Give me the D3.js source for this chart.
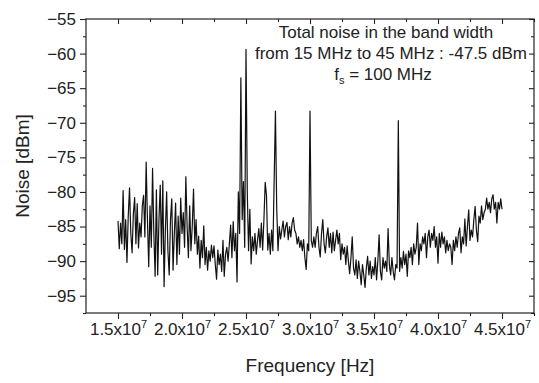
<!DOCTYPE html>
<html>
<head>
<meta charset="utf-8">
<script src="https://cdn.jsdelivr.net/npm/d3@7"></script>
<style>
body { margin: 0; background: #fff; }
text { font-family: "Liberation Sans", Arial, sans-serif; fill: #222; }
</style>
</head>
<body>
<svg id="chart" width="539" height="383"></svg>
<script>
// sampling grid of the spectrum (Hz)
var fStart = 1.5e7, fStep = 1e5;

// measured noise (dBm), one value per 0.1 MHz from 15 MHz to 45 MHz
var noise = [
  -84.2, -88.2, -84.5, -87.5, -79.8, -88.3, -84.0, -90.2, -83.5, -79.4,
  -86.0, -88.8, -83.2, -80.8, -87.5, -81.7, -88.1, -84.5, -86.5, -82.0,
  -80.5, -86.5, -75.7, -84.0, -90.8, -82.0, -88.0, -76.6, -86.0, -92.2,
  -79.7, -92.0, -84.0, -79.0, -89.0, -78.4, -93.7, -85.5, -80.0, -88.5,
  -92.0, -84.0, -81.0, -91.3, -86.0, -81.6, -90.5, -83.5, -89.0, -80.9,
  -86.0, -83.0, -88.0, -77.8, -85.0, -89.5, -82.0, -88.5, -85.0, -79.6,
  -87.5, -84.0, -89.0, -86.4, -91.0, -87.0, -89.5, -84.9, -90.5, -88.0,
  -91.3, -88.5, -90.0, -87.7, -89.5, -87.8, -90.5, -92.6, -88.4, -90.5,
  -89.0, -91.5, -87.0, -92.2, -89.0, -88.0, -90.0, -87.5, -84.8, -89.5,
  -84.3, -88.5, -86.0, -93.0, -80.0, -86.0, -63.5, -84.0, -78.5, -88.0,
  -59.4, -80.0, -88.5, -82.5, -90.4, -86.5, -88.5, -86.0, -89.0, -87.0,
  -85.3, -88.0, -84.5, -88.4, -84.0, -78.6, -80.5, -88.4, -86.0, -89.0,
  -85.5, -88.5, -78.3, -68.3, -82.3, -88.5, -85.0, -86.8, -85.5, -84.2,
  -86.5, -85.0, -84.4, -86.9, -85.0, -86.5, -84.5, -83.7, -85.5, -86.0,
  -87.5, -86.5, -88.0, -87.0, -88.5, -86.9, -89.5, -91.2, -87.5, -88.5,
  -68.3, -87.0, -88.0, -86.5, -88.0, -86.0, -85.0, -88.0, -89.4, -86.0,
  -84.0, -87.5, -88.8, -86.5, -85.2, -88.0, -86.0, -88.8, -85.8, -88.5,
  -87.0, -85.5, -87.5, -86.0, -89.8, -87.5, -89.0, -88.0, -90.5, -87.8,
  -90.0, -91.8, -89.5, -86.5, -91.0, -92.0, -89.8, -92.5, -90.0, -91.5,
  -93.4, -90.5, -92.0, -93.8, -91.0, -89.3, -92.0, -90.0, -92.5, -90.8,
  -92.0, -89.5, -92.7, -90.0, -86.2, -91.5, -92.7, -89.5, -91.0, -90.0,
  -91.5, -85.3, -90.5, -92.0, -89.5, -91.5, -92.7, -90.5, -91.0, -69.7,
  -91.5, -89.5, -91.0, -88.6, -90.5, -89.0, -92.2, -88.5, -89.5, -88.0,
  -90.5, -87.5, -89.0, -88.0, -84.5, -90.5, -87.5, -88.5, -86.5, -87.5,
  -86.0, -89.5, -86.5, -85.5, -88.0, -86.0, -87.0, -85.0, -88.0, -86.5,
  -90.3, -86.0, -88.0, -85.8, -87.5, -86.5, -88.8, -87.0, -88.5, -87.5,
  -88.0, -90.5, -87.0, -88.5, -86.5, -88.0, -86.0, -85.2, -88.8, -86.5,
  -87.5, -83.9, -87.8, -85.0, -82.6, -87.0, -85.5, -86.5, -84.0, -82.1,
  -85.5, -87.2, -83.5, -84.5, -82.0, -84.0, -83.0, -82.5, -80.9, -82.5,
  -81.5, -83.0, -81.0, -80.4, -82.5, -81.5, -84.5, -81.5, -82.5, -81.0,
  -82.5
];

var xTicks = [1.5e7, 2.0e7, 2.5e7, 3.0e7, 3.5e7, 4.0e7, 4.5e7];
var xMinor = [1.75e7, 2.25e7, 2.75e7, 3.25e7, 3.75e7, 4.25e7, 4.75e7];
var yTicks = [-95, -90, -85, -80, -75, -70, -65, -60, -55];
var yMinor = [-97.5, -92.5, -87.5, -82.5, -77.5, -72.5, -67.5, -62.5, -57.5];

var note = ["Total noise in the band width", "from 15 MHz to 45 MHz : -47.5 dBm"];

var svg = d3.select("#chart");
var mLeft = 86, mRight = 534, mTop = 19, mBottom = 313;

var x = d3.scaleLinear().domain([1.25e7, 4.75e7]).range([mLeft, mRight]);
var y = d3.scaleLinear().domain([-97.5, -55]).range([mBottom, mTop]);

var data = noise.map((v, i) => ({f: fStart + i * fStep, v: v}));

// frame
svg.append("rect")
    .attr("x", mLeft).attr("y", mTop)
    .attr("width", mRight - mLeft).attr("height", mBottom - mTop)
    .attr("fill", "none").attr("stroke", "#222").attr("stroke-width", 1.2);

// bottom axis
var xAxis = svg.append("g")
    .attr("transform", "translate(0," + mBottom + ")")
    .call(d3.axisBottom(x).tickValues(xTicks).tickSize(6).tickPadding(4)
        .tickFormat(d => (d / 1e7).toFixed(1)));
xAxis.selectAll("text")
    .style("font-size", "17px")
    .each(function(d) {
        var t = d3.select(this);
        var s = t.text();
        t.text(null);
        t.append("tspan").text(s + "x10");
        t.append("tspan").attr("dy", -7).style("font-size", "11px").text("7");
    });
svg.append("g")
    .attr("transform", "translate(0," + mBottom + ")")
    .call(d3.axisBottom(x).tickValues(xMinor).tickSize(3).tickFormat(""));

// left axis
var yAxis = svg.append("g")
    .attr("transform", "translate(" + mLeft + ",0)")
    .call(d3.axisLeft(y).tickValues(yTicks).tickSize(6).tickPadding(4));
yAxis.selectAll("text").style("font-size", "17px");
svg.append("g")
    .attr("transform", "translate(" + mLeft + ",0)")
    .call(d3.axisLeft(y).tickValues(yMinor).tickSize(3).tickFormat(""));

// mirrored ticks on top and right, pointing inward
svg.append("g")
    .attr("transform", "translate(0," + mTop + ")")
    .call(d3.axisBottom(x).tickValues(xTicks).tickSize(5).tickFormat(""));
svg.append("g")
    .attr("transform", "translate(0," + mTop + ")")
    .call(d3.axisBottom(x).tickValues(xMinor).tickSize(3).tickFormat(""));
svg.append("g")
    .attr("transform", "translate(" + mRight + ",0)")
    .call(d3.axisLeft(y).tickValues(yTicks).tickSize(5).tickFormat(""));
svg.append("g")
    .attr("transform", "translate(" + mRight + ",0)")
    .call(d3.axisLeft(y).tickValues(yMinor).tickSize(3).tickFormat(""));

svg.selectAll(".domain").remove();
svg.selectAll(".tick line").attr("stroke", "#222").attr("stroke-width", 1.1);

// spectrum trace
svg.append("path")
    .datum(data)
    .attr("fill", "none")
    .attr("stroke", "#111")
    .attr("stroke-width", 1.2)
    .attr("stroke-linejoin", "round")
    .attr("d", d3.line().x(d => x(d.f)).y(d => y(d.v)));

// annotation
svg.append("text")
    .attr("x", 386).attr("y", 38)
    .attr("text-anchor", "middle")
    .style("font-size", "17px")
    .text(note[0]);
svg.append("text")
    .attr("x", 527).attr("y", 59)
    .attr("text-anchor", "end")
    .style("font-size", "17px")
    .text(note[1]);
var fs = svg.append("text")
    .attr("x", 383).attr("y", 80)
    .attr("text-anchor", "middle")
    .style("font-size", "17px");
fs.append("tspan").text("f");
fs.append("tspan").attr("dy", 4).style("font-size", "11px").text("s");
fs.append("tspan").attr("dy", -4).text(" = 100 MHz");

// axis titles
svg.append("text")
    .attr("x", (mLeft + mRight) / 2).attr("y", 372)
    .attr("text-anchor", "middle")
    .style("font-size", "19px")
    .text("Frequency [Hz]");
svg.append("text")
    .attr("transform", "translate(29," + ((mTop + mBottom) / 2) + ") rotate(-90)")
    .attr("text-anchor", "middle")
    .style("font-size", "19px")
    .text("Noise [dBm]");
</script>
</body>
</html>
